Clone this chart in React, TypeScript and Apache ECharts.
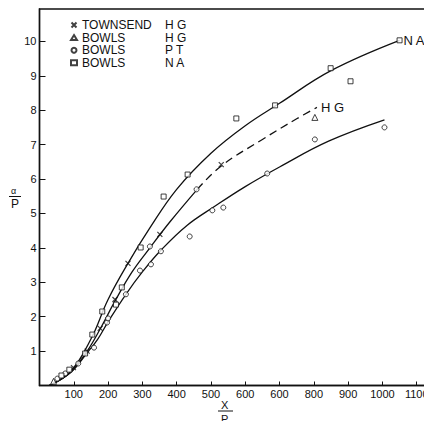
import React, { useEffect, useRef } from "react";
import * as echarts from "echarts";

// Scatter measurements [X/P, α/P]
const townsendHG: number[][] = [
  [99, 0.52], [139, 1.0], [177, 1.66], [220, 2.5], [258, 3.55], [351, 4.39], [530, 6.42],
];
const bowlsHG: number[][] = [
  [41, 0.12], [803, 7.79],
];
const bowlsPT: number[][] = [
  [52, 0.2], [75, 0.35], [113, 0.64], [159, 1.1], [197, 1.83], [200, 1.95], [252, 2.65],
  [293, 3.34], [322, 4.04], [325, 3.52], [354, 3.9], [438, 4.33], [458, 5.7], [504, 5.09],
  [536, 5.17], [664, 6.16], [803, 7.15], [1006, 7.5],
];
const bowlsNA: number[][] = [
  [64, 0.29], [87, 0.46], [133, 0.93], [154, 1.48], [183, 2.15], [223, 2.35], [240, 2.85],
  [295, 4.01], [362, 5.49], [432, 6.13], [574, 7.76], [687, 8.14], [849, 9.22], [907, 8.84],
  [1050, 10.03],
];

// Fitted curves
const curveNA: number[][] = [
  [28, 0], [90, 0.4], [150, 1.35], [200, 2.5], [258, 3.55], [320, 4.55], [400, 5.7],
  [500, 6.75], [600, 7.55], [700, 8.2], [850, 9.15], [1050, 10.03],
];
const curveHGsolid: number[][] = [
  [28, 0], [90, 0.38], [139, 1.0], [180, 1.7], [220, 2.45], [270, 3.3], [322, 4.0],
  [380, 4.75], [460, 5.7],
];
const curveHGdashed: number[][] = [
  [460, 5.7], [530, 6.38], [650, 7.15], [750, 7.75], [809, 8.08],
];
const curvePT: number[][] = [
  [28, 0], [90, 0.37], [139, 0.95], [170, 1.35], [200, 1.85], [252, 2.65], [300, 3.3],
  [354, 3.93], [430, 4.65], [510, 5.2], [600, 5.78], [700, 6.35], [843, 7.1], [1006, 7.72],
];

const xTickValues = [100, 200, 300, 400, 500, 600, 700, 800, 900, 1000, 1100];
const xTickLabels = ["100", "200", "300", "400", "500", "600", "600", "800", "900", "1000", "1100"];

const FONT = "'Liberation Sans', Arial, sans-serif";
const INK = "#111";

export default function App() {
  const ref = useRef<HTMLDivElement>(null);
  useEffect(() => {
    if (!ref.current) return;
    const chart = echarts.init(ref.current, null, { renderer: "svg" });
    const hollow = { color: "#fff", borderColor: INK, borderWidth: 1 };
    const lineBase = {
      type: "line" as const,
      smooth: 0.4,
      showSymbol: false,
      symbol: "none",
      silent: true,
      z: 2,
    };
    chart.setOption({
      animation: false,
      backgroundColor: "#fff",
      grid: {
        left: 39.5,
        top: 9,
        bottom: 35.5,
        right: 0,
        show: true,
        borderColor: INK,
        borderWidth: 1.5,
        backgroundColor: "transparent",
      },
      legend: {
        data: ["TOWNSEND|H G", "BOWLS|H G", "BOWLS|P T", "BOWLS|N A"],
        orient: "vertical",
        left: 69,
        top: 19,
        padding: 0,
        itemWidth: 6,
        itemHeight: 5,
        itemGap: 0.6,
        selectedMode: false,
        formatter: (name: string) => {
          const [a, b] = name.split("|");
          return `{a|${a}}{b|${b}}`;
        },
        textStyle: {
          color: INK,
          fontFamily: FONT,
          fontSize: 12,
          lineHeight: 12,
          rich: {
            a: { width: 83, fontSize: 12, fontFamily: FONT, color: INK },
            b: { fontSize: 12, fontFamily: FONT, color: INK },
          },
        },
      },
      xAxis: {
        type: "value",
        min: 0,
        max: 1200,
        interval: 100,
        axisLine: { show: true, lineStyle: { color: INK, width: 1.3 } },
        axisTick: { show: true, inside: true, length: 4, lineStyle: { color: INK } },
        splitLine: { show: false },
        axisLabel: {
          margin: 3,
          color: INK,
          fontFamily: FONT,
          fontSize: 11,
          formatter: (v: number) => {
            const i = xTickValues.indexOf(v);
            return i >= 0 ? xTickLabels[i] : "";
          },
        },
      },
      yAxis: {
        type: "value",
        min: 0,
        max: 10.94,
        interval: 1,
        axisLine: { show: true, lineStyle: { color: INK, width: 1.3 } },
        axisTick: { show: true, inside: true, length: 6, lineStyle: { color: INK } },
        splitLine: { show: false },
        axisLabel: {
          margin: 3,
          color: INK,
          fontFamily: FONT,
          fontSize: 11,
          showMaxLabel: false,
          formatter: (v: number) => (v > 0 && Number.isInteger(v) ? String(v) : ""),
        },
      },
      graphic: [
        { type: "text", left: 11, top: 186, style: { text: "α", font: `9px ${FONT}`, fill: INK } },
        { type: "line", shape: { x1: 9, y1: 196.5, x2: 21, y2: 196.5 }, style: { stroke: INK, lineWidth: 1 } },
        { type: "text", left: 11, top: 198, style: { text: "P", font: `12px ${FONT}`, fill: INK } },
        { type: "text", left: 221, top: 399, style: { text: "X", font: `11px ${FONT}`, fill: INK } },
        { type: "line", shape: { x1: 218, y1: 411, x2: 233, y2: 411 }, style: { stroke: INK, lineWidth: 1 } },
        { type: "text", left: 221, top: 413, style: { text: "P", font: `11px ${FONT}`, fill: INK } },
      ],
      series: [
        {
          ...lineBase,
          name: "curveNA",
          data: curveNA,
          lineStyle: { color: INK, width: 1.3 },
          endLabel: { show: true, formatter: "N A", distance: 4, color: INK, fontFamily: FONT, fontSize: 13 },
        },
        { ...lineBase, name: "curveHG", data: curveHGsolid, lineStyle: { color: INK, width: 1.3 } },
        {
          ...lineBase,
          name: "curveHGd",
          data: curveHGdashed,
          lineStyle: { color: INK, width: 1.3, type: [8, 5] },
          endLabel: { show: true, formatter: "H G", distance: 4, color: INK, fontFamily: FONT, fontSize: 13 },
        },
        { ...lineBase, name: "curvePT", data: curvePT, lineStyle: { color: INK, width: 1.3 } },
        {
          type: "scatter",
          name: "TOWNSEND|H G",
          data: townsendHG,
          symbol: "path://M0,0L10,10M0,10L10,0",
          symbolSize: 5,
          itemStyle: { color: "none", borderColor: INK, borderWidth: 1.2 },
          z: 5,
        },
        { type: "scatter", name: "BOWLS|H G", data: bowlsHG, symbol: "triangle", symbolSize: 6, itemStyle: hollow, z: 5 },
        { type: "scatter", name: "BOWLS|P T", data: bowlsPT, symbol: "circle", symbolSize: 5, itemStyle: hollow, z: 5 },
        { type: "scatter", name: "BOWLS|N A", data: bowlsNA, symbol: "rect", symbolSize: 5, itemStyle: hollow, z: 5 },
      ],
    });
    return () => chart.dispose();
  }, []);
  return (
    <div style={{ position: "fixed", left: 0, top: 0, width: 424, height: 421, overflow: "hidden", background: "#fff" }}>
      <div ref={ref} style={{ width: 454, height: 421 }} />
    </div>
  );
}
